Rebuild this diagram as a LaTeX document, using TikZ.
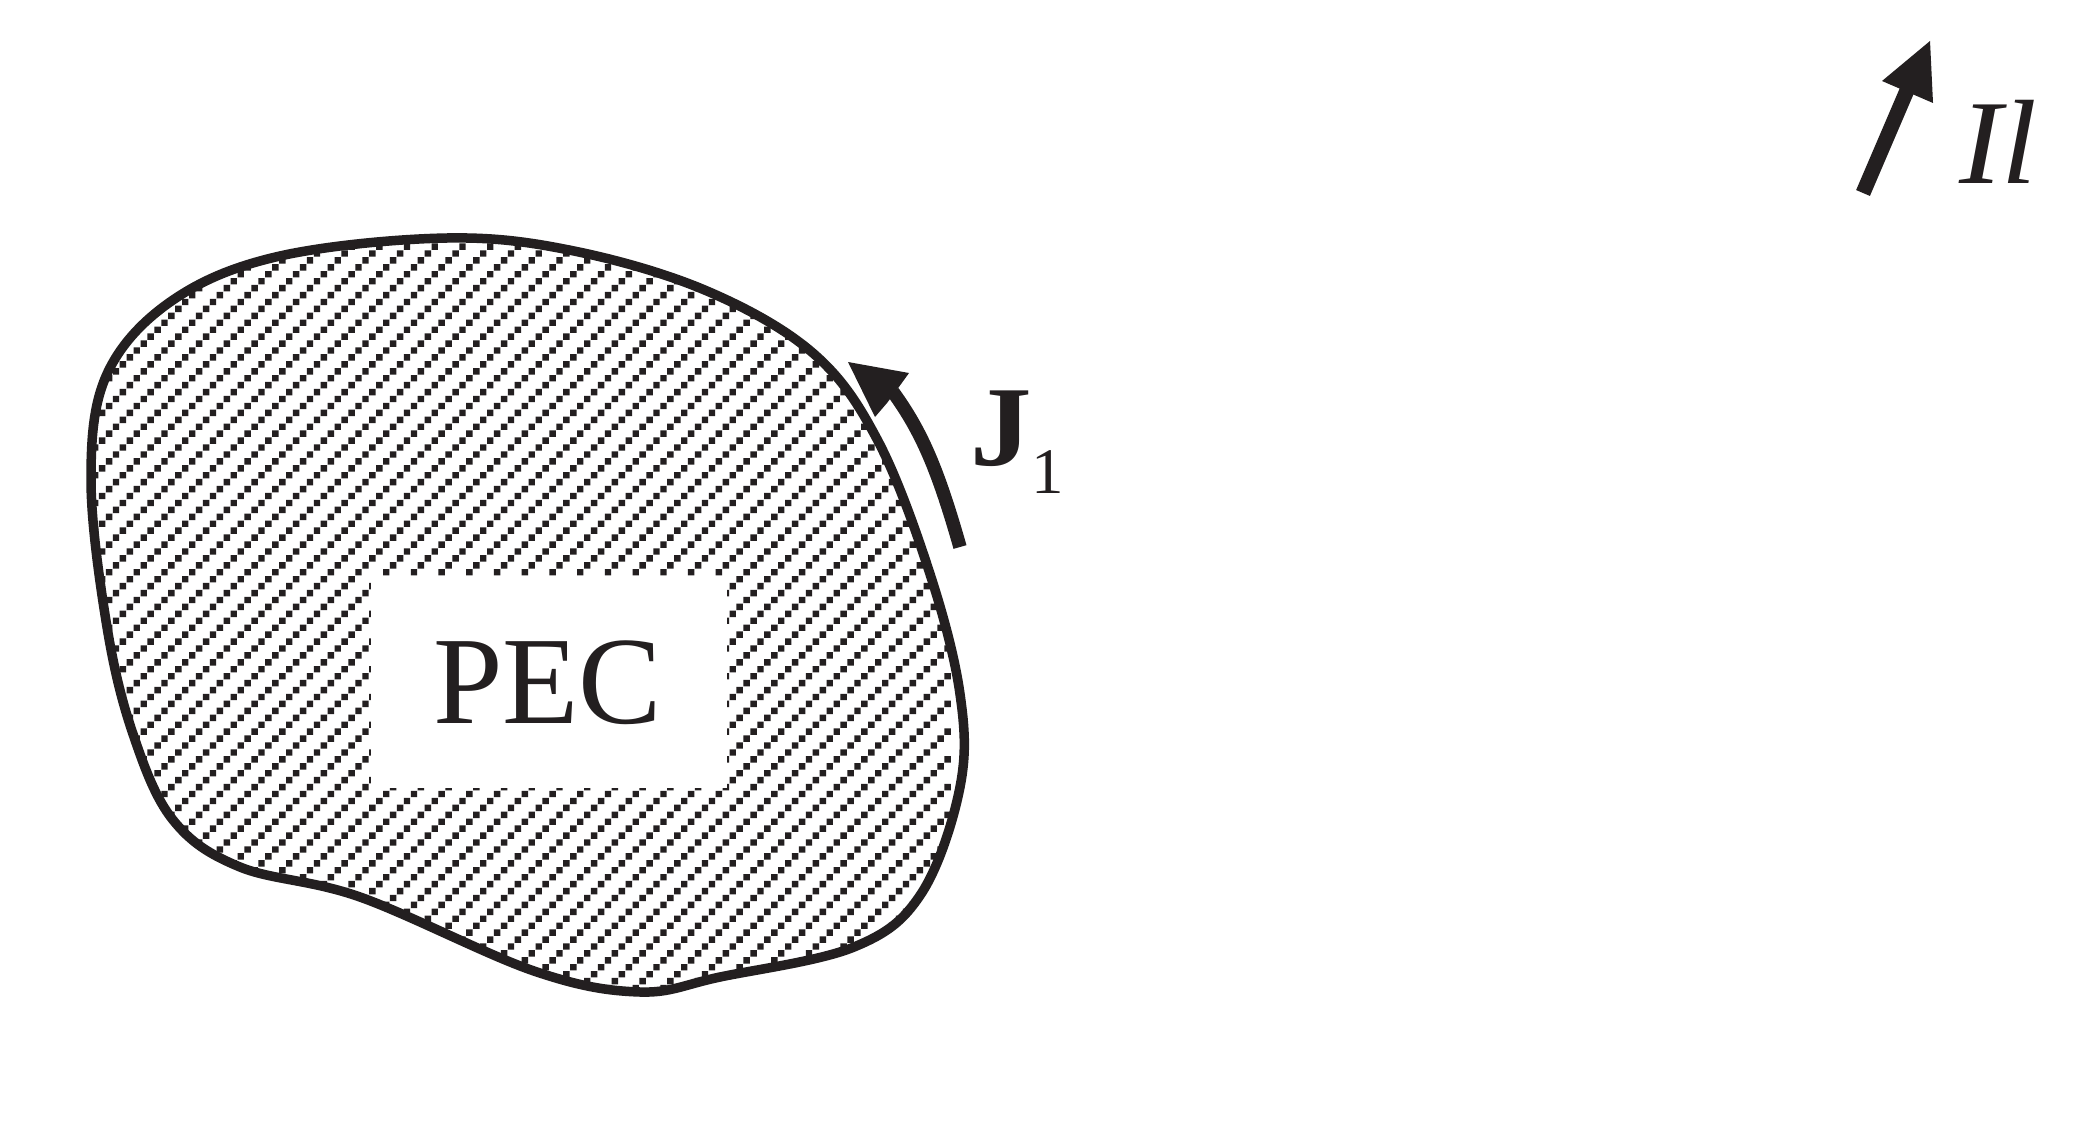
\documentclass[tikz,border=0pt]{standalone}
\usepackage{fontspec}
\setmainfont{Liberation Serif}
\definecolor{ink}{HTML}{231F20}
\newcommand{\blobpath}{plot[smooth cycle,tension=0.6] coordinates{
(447,238)(574,251)(707,291)(814,354)(878,441)(930,574)(960,694)(960,787)(921,894)(854,947)(720,977)(640,992)(534,971)(360,897)(240,867)(173,820)(133,734)(107,627)(91,480)(107,374)(173,300)(280,256)}}
\tikzset{
  txt/.style={inner sep=0pt,outer sep=0pt,anchor=base west,text=ink},
  thickshaft/.style={draw=ink,line width=13.5pt},
  headfill/.style={fill=ink,draw=none},
  outline/.style={draw=ink,line width=9.5pt}
}
\begin{document}
\begin{tikzpicture}[x=1pt,y=-1pt]
\useasboundingbox (0,0) rectangle (2092,1129);
\fill[white] (0,0) rectangle (2092,1129);
% hatching dots
\begin{scope}
\clip \blobpath;
\fill[ink] foreach \r in {0,...,122}{
  foreach \c in {0,...,34}{
    ({5.1+\c*27.72-mod(\r,4)*6.93-3.2},{232.7+\r*6.93-3.2}) rectangle +(6.4,6.4)
  }};
\end{scope}
\fill[white] (371,576) rectangle (727,788);
\draw[outline] \blobpath;
\node[txt,font=\fontsize{125}{125}\selectfont] (pec) at (433,723) {PEC};
% J arrow
\coordinate (ja) at (960,547);
\coordinate (jb) at (893,392);
\draw[thickshaft] (ja) .. controls (938,470) and (922,432) .. (jb);
\fill[headfill] (848,362) -- (909,373) -- (896,391) -- (887,403) -- (875,417) -- cycle;
\node[txt,font=\fontsize{114}{114}\selectfont\bfseries,xscale=1.08] (jlabel) at (970,465) {J};
\node[txt,font=\fontsize{65}{65}\selectfont] (jsub) at (1031,493) {1};
% Il arrow
\coordinate (ia) at (1863,193);
\coordinate (ib) at (1908,88);
\draw[draw=ink,line width=15pt] (ia) -- (ib);
\fill[headfill] (1930,41) -- (1882,81) -- (1933,103) -- cycle;
\node[txt,font=\fontsize{120}{120}\selectfont\itshape,xscale=1.07] (il) at (1959,183) {Il};
\end{tikzpicture}
\end{document}
